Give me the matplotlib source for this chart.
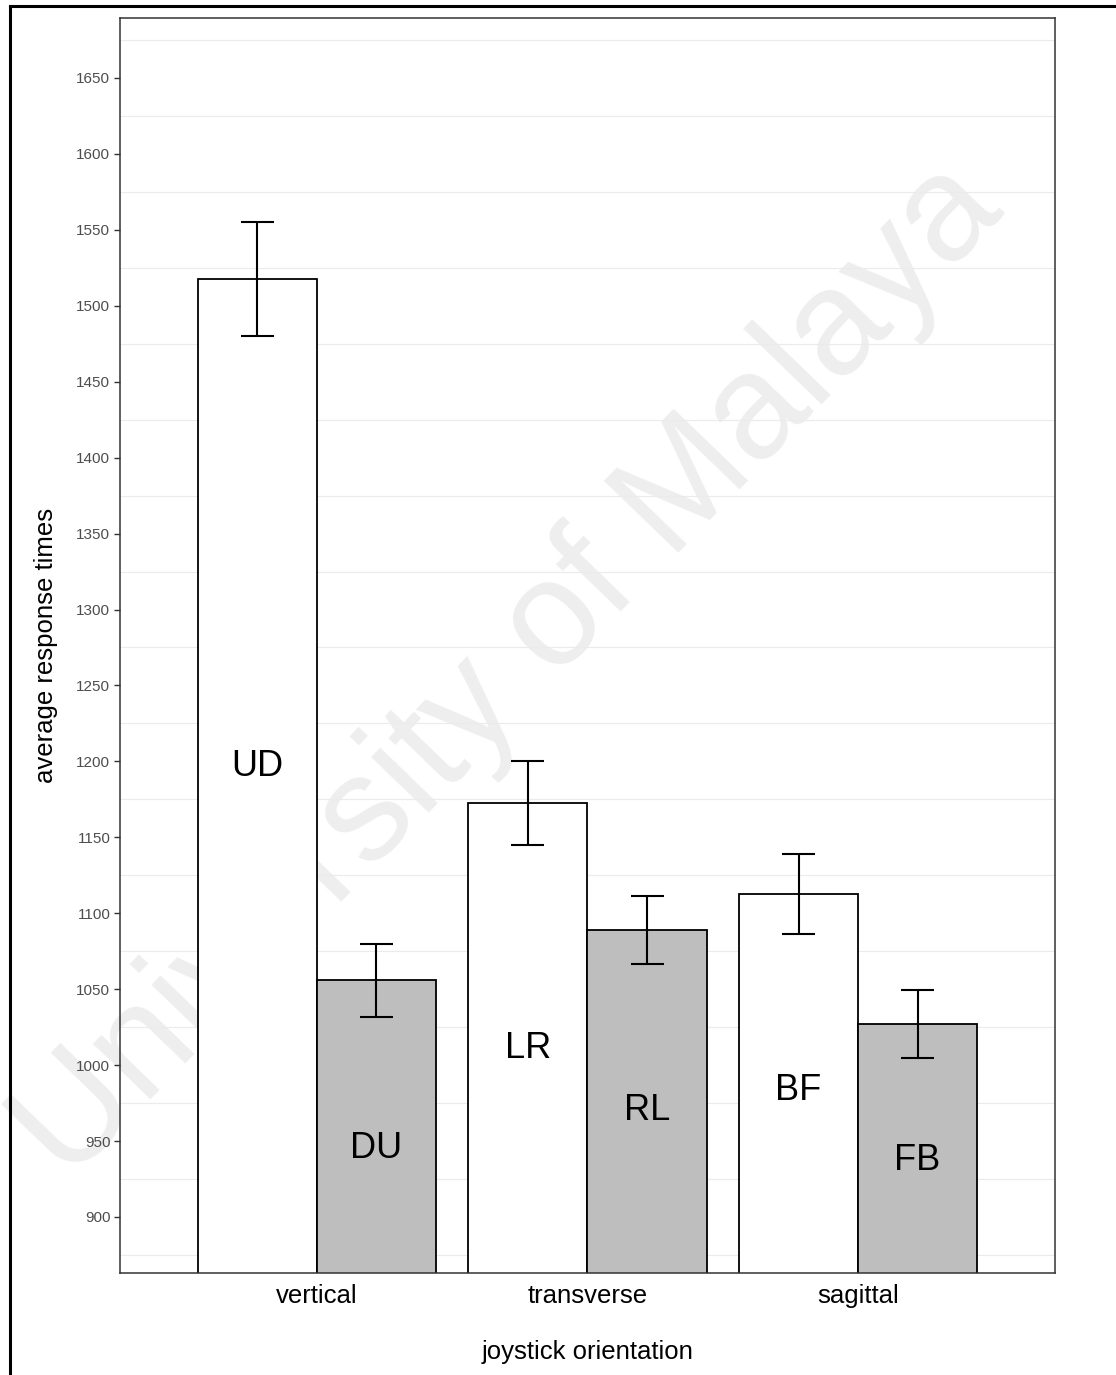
import numpy as np
import matplotlib
matplotlib.use("Agg")
import matplotlib.pyplot as plt
from matplotlib.lines import Line2D
from matplotlib.ticker import FixedLocator

plt.rcParams['font.family'] = ['Liberation Sans', 'DejaVu Sans']

# Data: mean response times by joystick orientation and direction
categories = ['vertical', 'transverse', 'sagittal']
first_dirs = ['UD', 'LR', 'BF']
first_means = [1517.6, 1172.7, 1112.5]
first_errs = [37.8, 27.5, 26.3]
second_dirs = ['DU', 'RL', 'FB']
second_means = [1056.0, 1089.0, 1027.3]
second_errs = [24.0, 22.3, 22.3]
first_label_y = [1196.5, 1010.8, 983.5]
second_label_y = [945, 970, 937.5]
y_ticks = [900, 950, 1000, 1050, 1100, 1150, 1200, 1250, 1300, 1350,
           1400, 1450, 1500, 1550, 1600, 1650]

W, H = 1116, 1375
fig = plt.figure(figsize=(W / 100, H / 100), dpi=100)
fig.patch.set_facecolor('white')

# Page frame (partially cropped at right and bottom)
fig.add_artist(Line2D([9.5 / W, 9.5 / W], [0, 1 - 6 / H], color='black',
                      lw=2.2, transform=fig.transFigure, solid_capstyle='projecting'))
fig.add_artist(Line2D([9.5 / W, 1], [1 - 6 / H, 1 - 6 / H], color='black',
                      lw=2.2, transform=fig.transFigure, solid_capstyle='projecting'))

# Watermark
fig.text(510 / W, 1 - 672 / H, 'University of Malaya', fontsize=108,
         color='#EEEEEE', rotation=46, ha='center', va='center',
         rotation_mode='anchor', zorder=0)

ax = fig.add_axes([120 / W, 1 - 1273 / H, (1055 - 120) / W, (1273 - 18) / H])
ax.set_facecolor('none')
ax.set_zorder(1)

x = np.arange(1, len(categories) + 1)
bw = 0.44
x1 = x - bw / 2
x2 = x + bw / 2

ax.bar(x1, first_means, width=bw, color='white', edgecolor='black', lw=1.3, zorder=3)
ax.bar(x2, second_means, width=bw, color='#BEBEBE', edgecolor='black', lw=1.3, zorder=3)

cap = 0.061
for xs, m, e in [(x1, first_means, first_errs), (x2, second_means, second_errs)]:
    m = np.asarray(m)
    e = np.asarray(e)
    ax.vlines(xs, m - e, m + e, color='black', lw=1.5, zorder=4)
    ax.hlines(m - e, xs - cap, xs + cap, color='black', lw=1.5, zorder=4)
    ax.hlines(m + e, xs - cap, xs + cap, color='black', lw=1.5, zorder=4)

for xi, lab, ly in zip(x1, first_dirs, first_label_y):
    ax.text(xi, ly, lab, fontsize=26, ha='center', va='center', zorder=5)
for xi, lab, ly in zip(x2, second_dirs, second_label_y):
    ax.text(xi, ly, lab, fontsize=26, ha='center', va='center', zorder=5)

ax.set_xlim(0.272, 3.728)
ax.set_ylim(863.1, 1689.5)

ax.set_yticks(y_ticks)
ax.yaxis.set_minor_locator(FixedLocator(np.arange(875, 1700, 50)))
ax.grid(False, which='major')
ax.grid(True, which='minor', axis='y', color='#EBEBEB', lw=0.8, zorder=0)
ax.tick_params(axis='y', which='minor', length=0)
ax.tick_params(axis='y', which='major', length=4.5, width=1.0, color='#333333',
               labelsize=11, labelcolor='#4D4D4D', pad=2.5)
ax.set_xticks(x)
ax.set_xticklabels(categories)
ax.tick_params(axis='x', which='major', length=0, labelsize=18.5,
               labelcolor='black', pad=8)

for s in ax.spines.values():
    s.set_color('#333333')
    s.set_linewidth(1.1)
    s.set_zorder(6)

ax.set_ylabel('average response times', fontsize=18.5, labelpad=13)
ax.set_xlabel('joystick orientation', fontsize=18.5, labelpad=23)

fig.savefig('out.png', dpi=100)
